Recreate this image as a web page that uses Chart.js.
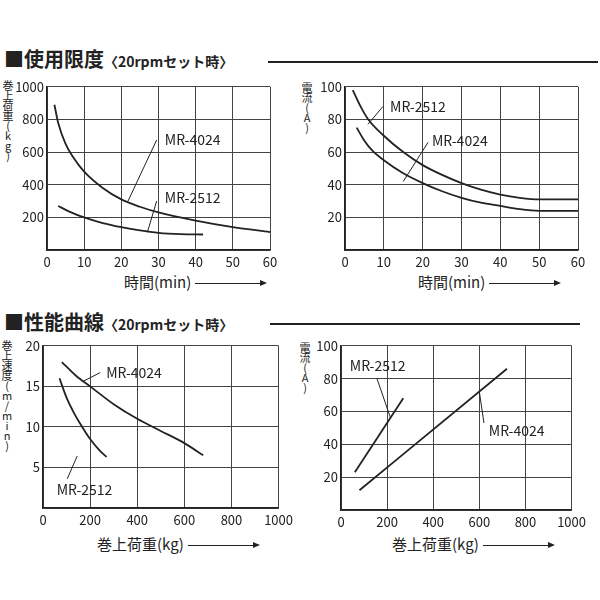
<!DOCTYPE html>
<html><head><meta charset="utf-8">
<script src="https://cdn.jsdelivr.net/npm/chart.js@4"></script>
<style>
body{margin:0;width:600px;height:600px;background:#fff;position:relative;font-family:"Noto Sans CJK JP",sans-serif;color:#222;overflow:hidden}
canvas{position:absolute}
.h{position:absolute;font-weight:bold;font-size:20px;white-space:nowrap}
.h small{font-size:14px}
.rule{position:absolute;height:2px;background:#222}
.vt{position:absolute;writing-mode:vertical-rl;font-size:11px;line-height:11px;text-orientation:upright;letter-spacing:-1px}
.xt{position:absolute;font-size:15px;white-space:nowrap}
.xt span{display:inline-block;width:70px;height:1px;background:#222;vertical-align:middle;margin-left:4px;position:relative}
.xt span:after{content:"";position:absolute;right:-2px;top:-3px;border-left:7px solid #222;border-top:3.5px solid transparent;border-bottom:3.5px solid transparent}
</style></head><body>
<div class="h" style="left:4px;top:44px">■使用限度<small>〈20rpmセット時〉</small></div>
<div class="rule" style="left:268px;top:61px;width:330px"></div>
<div class="h" style="left:4px;top:307px">■性能曲線<small>〈20rpmセット時〉</small></div>
<div class="rule" style="left:270px;top:323px;width:310px"></div>
<div class="vt" style="left:2px;top:80px">巻上荷重(kg)</div>
<div class="vt" style="left:301px;top:82px">電流(A)</div>
<div class="vt" style="left:1px;top:340px">巻上速度(m/min)</div>
<div class="vt" style="left:299px;top:342px">電流(A)</div>
<div class="xt" style="left:124px;top:271px">時間(min)<span></span></div>
<div class="xt" style="left:418px;top:271px">時間(min)<span></span></div>
<div class="xt" style="left:97px;top:533px">巻上荷重(kg)<span></span></div>
<div class="xt" style="left:392px;top:533px">巻上荷重(kg)<span></span></div>
<canvas id="c1" style="left:7px;top:76px"></canvas>
<canvas id="c2" style="left:305px;top:76px"></canvas>
<canvas id="c3" style="left:3px;top:335px"></canvas>
<canvas id="c4" style="left:301px;top:335px"></canvas>
<script>
// Top-left: load limit vs time
const tlMR4024 = [[2,890],[3,780],[5,650],[7,570],[10,480],[15,380],[20,310],[25,265],[30,230],[40,180],[50,140],[60,110]];
const tlMR2512 = [[3,270],[6,235],[10,200],[15,165],[20,140],[25,120],[30,105],[36,97],[42,95]];
// Top-right: current vs time
const trMR2512 = [[2,98],[4,88],[6,80],[10,70],[15,60],[20,52],[25,46],[30,41],[35,37],[40,34],[45,32],[50,31],[60,31]];
const trMR4024 = [[3,75],[5,67],[7,61],[10,55],[15,47],[20,41],[25,36],[30,32],[35,29],[40,27],[45,25],[50,24],[60,24]];
// Bottom-left: speed vs load
const blMR4024 = [[80,18],[140,16.3],[200,15],[300,12.8],[400,11],[500,9.5],[600,8],[680,6.5]];
const blMR2512 = [[70,16],[100,13.6],[130,11.8],[160,10.3],[200,8.5],[240,7.1],[270,6.3]];
// Bottom-right: current vs load
const brMR2512 = [[60,23],[270,68]];
const brMR4024 = [[80,12],[720,86]];

const FONT = {family:'"Noto Sans CJK JP", sans-serif', size:13};
const annot = {id:'annot', afterDatasetsDraw(ch, a, opts){
  const c=ch.ctx, xs=ch.scales.x, ys=ch.scales.y;
  c.save(); c.fillStyle='#222'; c.strokeStyle='#222'; c.lineWidth=1;
  c.font='14px "Noto Sans CJK JP", sans-serif'; c.textBaseline='middle';
  (opts.items||[]).forEach(it=>{
    c.beginPath(); c.moveTo(xs.getPixelForValue(it.l[0]),ys.getPixelForValue(it.l[1]));
    c.lineTo(xs.getPixelForValue(it.l[2]),ys.getPixelForValue(it.l[3])); c.stroke();
    c.fillText(it.t, xs.getPixelForValue(it.x), ys.getPixelForValue(it.y));
  });
  c.restore();
}};
function mk(id,w,h,sets,xmax,xstep,ymax,ystep,items){
  const cv=document.getElementById(id); cv.width=w; cv.height=h; cv.style.width=w+'px'; cv.style.height=h+'px';
  new Chart(cv,{type:'scatter',
    data:{datasets:sets.map(s=>({data:s.map(p=>({x:p[0],y:p[1]})),showLine:true,cubicInterpolationMode:'monotone',borderColor:'#222',borderWidth:1.8,pointRadius:0}))},
    options:{responsive:false,animation:false,layout:{padding:{top:8,right:12,left:0,bottom:0}},
      plugins:{legend:{display:false},tooltip:{enabled:false},annot:{items}},
      scales:{
        x:{min:0,max:xmax,afterFit:s=>{s.height=25},border:{color:'#222',width:1.5},grid:{color:'#444',lineWidth:1,drawTicks:false},
           ticks:{stepSize:xstep,color:'#222',font:FONT,padding:4,maxRotation:0,callback:v=>String(v)}},
        y:{min:0,max:ymax,afterFit:s=>{s.width=40},border:{color:'#222',width:1.5},grid:{color:'#444',lineWidth:1,drawTicks:false},
           ticks:{stepSize:ystep,color:'#222',font:FONT,padding:3,callback:v=>v===0?'':String(v)}}
      }},plugins:[annot]});
}
mk('c1',275,199,[tlMR4024,tlMR2512],60,10,1000,200,[
  {t:'MR-4024',x:31.7,y:674,l:[29.5,674,21.8,300]},
  {t:'MR-2512',x:31.7,y:319,l:[29.5,300,27,108]}]);
mk('c2',285,199,[trMR2512,trMR4024],60,10,100,20,[
  {t:'MR-2512',x:11.6,y:88,l:[9.8,88,5.9,77]},
  {t:'MR-4024',x:22.4,y:67,l:[21.4,66,15,42]}]);
mk('c3',294,198,[blMR4024,blMR2512],1000,200,20,5,[
  {t:'MR-4024',x:268,y:16.7,l:[243,16.7,169,15.6]},
  {t:'MR-2512',x:58,y:2.2,l:[103,3.6,145,6.4]}]);
mk('c4',289,200,[brMR2512,brMR4024],1000,200,100,20,[
  {t:'MR-2512',x:38,y:88,l:[156,80,215,56]},
  {t:'MR-4024',x:641,y:48.6,l:[620,53,600,72]}]);
</script></body></html>
